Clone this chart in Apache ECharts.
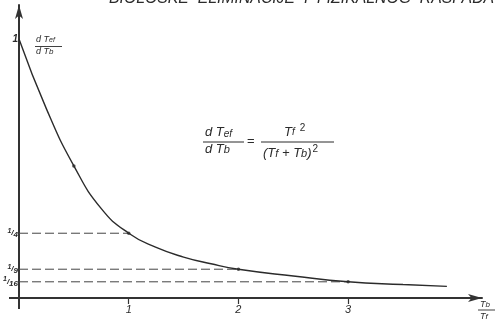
<!DOCTYPE html>
<html>
<head>
<meta charset="utf-8">
<script src="https://cdn.jsdelivr.net/npm/echarts@6/dist/echarts.min.js"></script>
<style>
  html, body { margin: 0; padding: 0; background: #fff; }
  #chart { width: 499px; height: 324px; }
</style>
</head>
<body>
<div id="chart"></div>
<script>
// Ratio Tb/Tf along x, derivative dTef/dTb along y
const curveX = [0, 0.25, 0.5, 0.75, 1.0, 1.25, 1.5, 1.75, 2.0, 2.5, 3.0, 3.5, 3.9];
const curveY = [1.0, 0.73, 0.51, 0.345, 0.25, 0.195, 0.158, 0.132, 0.111, 0.085, 0.0625, 0.052, 0.045];

// Marked points on the curve
const markX = [0.5, 1, 2, 3];
const markY = [0.51, 0.25, 0.111, 0.0625];

// Dashed guide levels and where each one meets the curve
const guideLevels = [1 / 4, 1 / 9, 1 / 16];
const guideEnds = [1, 2, 3];

// Tick labels: [numerator, denominator] for the fractional ones
const yTickValues = [1, 1 / 4, 1 / 9, 1 / 16];
const yTickLabels = [['1', ''], ['1', '4'], ['1', '9'], ['1', '16']];
const xTickValues = [1, 2, 3];
const xTickLabels = ['1', '2', '3'];

const titleText = 'BIOLOŠKE  ELIMINACIJE  I  FIZIKALNOG  RASPADA';

const ink = '#2b2b2b';
const font = 'Liberation Sans';

const chart = echarts.init(document.getElementById('chart'), null, { renderer: 'canvas' });

const series = [
  {
    type: 'line',
    data: curveX.map((x, i) => [x, curveY[i]]),
    smooth: 0.5,
    symbol: 'none',
    lineStyle: { color: ink, width: 1.4 },
    z: 5
  },
  {
    type: 'scatter',
    data: markX.map((x, i) => [x, markY[i]]),
    symbolSize: 3.5,
    itemStyle: { color: ink },
    z: 6
  }
];
guideLevels.forEach((lv, i) => {
  series.push({
    type: 'line',
    data: [[0, lv], [guideEnds[i], lv]],
    symbol: 'none',
    lineStyle: { color: '#444', width: 1, type: [9, 4] },
    z: 3
  });
});

const sub = (size) => ({ fontSize: size, fontStyle: 'italic', fontFamily: font, fill: ink });
const tickFont = (size, va) => ({ fontSize: size, fontStyle: 'italic', fontWeight: 'bold', fontFamily: font, color: ink, verticalAlign: va, lineHeight: 12 });

const option = {
  backgroundColor: '#fff',
  animation: false,
  grid: { left: 19, right: 17, top: 5, bottom: 26, containLabel: false, outerBoundsMode: 'none' },
  xAxis: {
    type: 'value',
    min: 0,
    max: 4.22,
    splitLine: { show: false },
    axisLine: {
      show: true,
      lineStyle: { color: '#333', width: 2 },
      symbol: ['none', 'arrow'],
      symbolSize: [6, 14]
    },
    axisTick: {
      show: true, inside: false, length: 6,
      customValues: xTickValues,
      lineStyle: { color: '#333', width: 1.2 }
    },
    axisLabel: {
      customValues: xTickValues,
      formatter: v => xTickLabels[xTickValues.indexOf(Math.round(v))] || '',
      fontFamily: font, fontStyle: 'italic', fontSize: 11, color: ink, margin: 6
    }
  },
  yAxis: {
    type: 'value',
    min: 0,
    max: 1.131,
    splitLine: { show: false },
    axisLine: {
      show: true,
      lineStyle: { color: '#333', width: 2 },
      symbol: ['none', 'arrow'],
      symbolSize: [6, 14]
    },
    axisTick: { show: false },
    axisLabel: {
      customValues: yTickValues,
      formatter: v => {
        let best = 0;
        yTickValues.forEach((t, i) => { if (Math.abs(t - v) < Math.abs(yTickValues[best] - v)) best = i; });
        const [n, d] = yTickLabels[best];
        return d ? '{n|' + n + '}{s|/}{d|' + d + '}' : '{w|' + n + '}';
      },
      margin: 1,
      rich: {
        n: tickFont(7, 'top'),
        s: tickFont(8, 'middle'),
        d: tickFont(8, 'bottom'),
        w: tickFont(10, 'middle')
      }
    }
  },
  series: series
};

chart.setOption(option);

// Decorations placed relative to the plotted origin
const o = chart.convertToPixel({ gridIndex: 0 }, [0, 0]);

chart.setOption({
  graphic: [
    // Title running off the top edge
    {
      type: 'text', left: 109, top: -9,
      style: { text: titleText, fontFamily: font, fontStyle: 'italic', fontSize: 15.8, fill: ink }
    },
    // Axis extensions past the origin
    { type: 'line', shape: { x1: o[0], y1: o[1], x2: o[0], y2: o[1] + 11 }, style: { stroke: '#333', lineWidth: 2 } },
    { type: 'line', shape: { x1: o[0] - 10, y1: o[1], x2: o[0], y2: o[1] }, style: { stroke: '#333', lineWidth: 2 } },
    // Y axis name: dTef / dTb
    {
      type: 'text', x: 36, y: 35,
      style: { text: '{t|d T}{s|ef}', rich: { t: sub(9), s: Object.assign(sub(7), { verticalAlign: 'bottom' }) } }
    },
    { type: 'line', shape: { x1: 35, y1: 46.5, x2: 62, y2: 46.5 }, style: { stroke: ink, lineWidth: 0.9 } },
    {
      type: 'text', x: 36, y: 47,
      style: { text: '{t|d T}{s|b}', rich: { t: sub(9), s: sub(8) } }
    },
    // X axis name: Tb / Tf
    {
      type: 'text', x: 480, y: 300,
      style: { text: '{t|T}{s|b}', rich: { t: sub(9), s: sub(8) } }
    },
    { type: 'line', shape: { x1: 478, y1: 310, x2: 495, y2: 310 }, style: { stroke: ink, lineWidth: 0.9 } },
    {
      type: 'text', x: 480, y: 312,
      style: { text: '{t|T}{s|f}', rich: { t: sub(9), s: sub(8) } }
    },
    // Formula: dTef/dTb = Tf^2 / (Tf + Tb)^2
    {
      type: 'text', x: 205, y: 126,
      style: { text: '{t|d T}{s|ef}', rich: { t: sub(13), s: Object.assign(sub(10), { verticalAlign: 'bottom' }) } }
    },
    { type: 'line', shape: { x1: 203, y1: 142, x2: 244, y2: 142 }, style: { stroke: ink, lineWidth: 1 } },
    {
      type: 'text', x: 205, y: 143,
      style: { text: '{t|d T}{s|b}', rich: { t: sub(13), s: sub(11) } }
    },
    {
      type: 'text', x: 247, y: 135,
      style: { text: '=', fontSize: 13, fontFamily: font, fill: ink }
    },
    {
      type: 'text', x: 284, y: 123,
      style: { text: '{t|T}{s|f}{p|2}', rich: { t: sub(13), s: sub(10), p: { fontSize: 10, fontFamily: font, fill: ink, padding: [0, 0, 9, 5] } } }
    },
    { type: 'line', shape: { x1: 261, y1: 142, x2: 334, y2: 142 }, style: { stroke: ink, lineWidth: 1 } },
    {
      type: 'text', x: 263, y: 144,
      style: { text: '{t|(T}{s|f}{t| + T}{s|b}{t|)}{p|2}', rich: { t: sub(13), s: sub(11), p: { fontSize: 10, fontFamily: font, fill: ink, padding: [0, 0, 9, 1] } } }
    }
  ]
});
</script>
</body>
</html>
